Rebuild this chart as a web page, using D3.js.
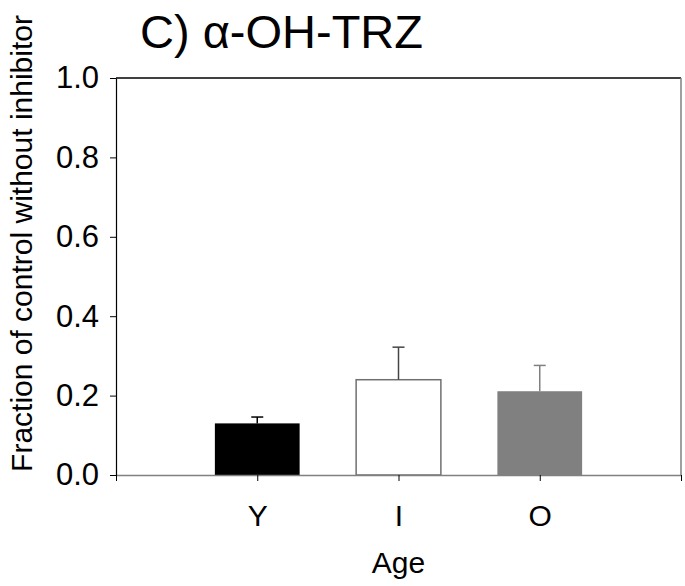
<!DOCTYPE html>
<html>
<head>
<meta charset="utf-8">
<script src="https://cdn.jsdelivr.net/npm/d3@7"></script>
<style>
    body { margin: 0; background: #fff; }
    text { font-family: "Liberation Sans", Arial, sans-serif; fill: #000; }
</style>
</head>
<body>
<div id="barplot"></div>
<script>
// Define variables
// ============================================================================
const ages = ["Y", "I", "O"],
    means = [0.13, 0.24, 0.211],
    errors = [0.016, 0.082, 0.065],
    fills = ["#000000", "#ffffff", "#808080"],
    errColors = ["#000000", "#444444", "#808080"],
    yTicks = [0, 0.2, 0.4, 0.6, 0.8, 1.0];

const W = 685, H = 586,
    margin = {top: 78, right: 4, bottom: 111, left: 116},
    width = W - margin.left - margin.right,
    height = H - margin.top - margin.bottom;

// Plot
// ============================================================================
let svg = d3.select("#barplot")
    .append("svg")
        .attr("width", W)
        .attr("height", H)
    .append("g")
        .attr("transform", "translate(" + margin.left + "," + margin.top + ")");

// Scales: categories at 1, 2, 3 on a 0..4 axis
let xScale = d3.scaleLinear()
    .domain([0, 4])
    .range([0, width]);

let yScale = d3.scaleLinear()
    .domain([0, 1])
    .range([height, 0]);

const barW = xScale(0.6) - xScale(0);

// Frame (top and right)
svg.append("line")
    .attr("x1", 0).attr("x2", width)
    .attr("y1", 0).attr("y2", 0)
    .attr("stroke", "#000").attr("stroke-width", 1.5);
svg.append("line")
    .attr("x1", width).attr("x2", width)
    .attr("y1", 0).attr("y2", height)
    .attr("stroke", "#808080").attr("stroke-width", 1.5);

// Bars
svg.selectAll(".bar")
    .data(ages)
    .enter().append("rect")
        .attr("class", "bar")
        .attr("x", (d, i) => xScale(i + 1) - barW / 2)
        .attr("y", (d, i) => yScale(means[i]))
        .attr("width", barW)
        .attr("height", (d, i) => yScale(0) - yScale(means[i]))
        .attr("fill", (d, i) => fills[i])
        .attr("stroke", (d, i) => i === 1 ? "#707070" : "none")
        .attr("stroke-width", 1.5);

// Error bars (upper only)
const capW = 12;
ages.forEach((d, i) => {
    const cx = xScale(i + 1);
    svg.append("line")
        .attr("x1", cx).attr("x2", cx)
        .attr("y1", yScale(means[i]))
        .attr("y2", yScale(means[i] + errors[i]))
        .attr("stroke", errColors[i]).attr("stroke-width", 1.5);
    svg.append("line")
        .attr("x1", cx - capW / 2).attr("x2", cx + capW / 2)
        .attr("y1", yScale(means[i] + errors[i]))
        .attr("y2", yScale(means[i] + errors[i]))
        .attr("stroke", errColors[i]).attr("stroke-width", 1.5);
});

// X axis
let xAxis = svg.append("g")
    .attr("transform", "translate(0," + height + ")")
    .call(d3.axisBottom(xScale)
        .tickValues([0, 1, 2, 3, 4])
        .tickSize(6)
        .tickSizeOuter(0)
        .tickFormat(d => (d >= 1 && d <= 3) ? ages[d - 1] : ""));
xAxis.select(".domain").attr("stroke", "#808080").attr("stroke-width", 1.5);
xAxis.selectAll(".tick line").attr("stroke", "#000");
xAxis.selectAll(".tick text")
    .attr("y", 30)
    .style("font-size", "30px");

// Y axis
let yAxis = svg.append("g")
    .call(d3.axisLeft(yScale)
        .tickValues(yTicks)
        .tickSize(6)
        .tickSizeOuter(0)
        .tickFormat(d3.format(".1f")));
yAxis.select(".domain").attr("stroke", "#000").attr("stroke-width", 1.2);
yAxis.selectAll(".tick text")
    .attr("x", -17)
    .style("font-size", "31px");

// Axis titles
svg.append("text")
    .attr("x", width / 2)
    .attr("y", height + 98)
    .attr("text-anchor", "middle")
    .style("font-size", "30px")
    .text("Age");

svg.append("text")
    .attr("transform", "translate(" + (-84) + "," + (height / 2 - 33) + ") rotate(-90)")
    .attr("text-anchor", "middle")
    .style("font-size", "30px")
    .text("Fraction of control without inhibitor");

// Title
svg.append("text")
    .attr("x", 140 - margin.left)
    .attr("y", 48 - margin.top)
    .style("font-size", "47px")
    .text("C) α-OH-TRZ");
</script>
</body>
</html>
